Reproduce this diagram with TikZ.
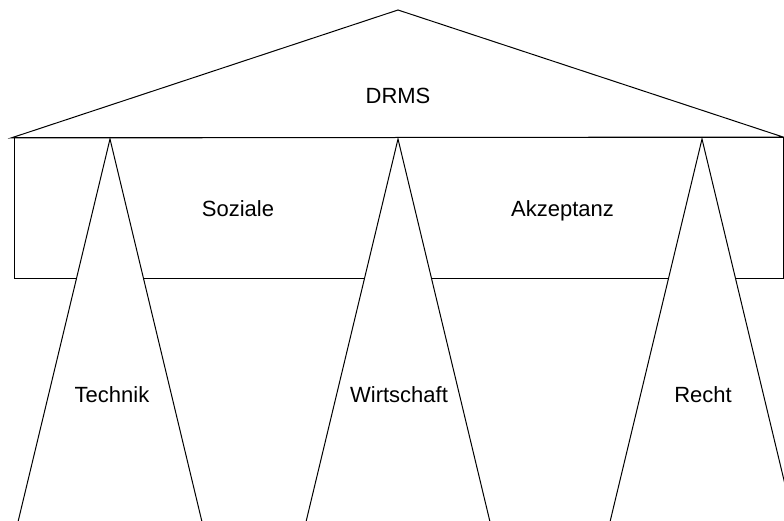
\documentclass[tikz,border=0pt]{standalone}
\usepackage{fontspec}
\setmainfont{Liberation Sans}
\begin{document}
\begin{tikzpicture}[x=1pt,y=-1pt,
  edge/.style={draw=black,line width=1pt,line join=miter},
  pillar/.style={edge,fill=white},
  lbl/.style={anchor=base,inner sep=0pt,font=\fontsize{22}{26}\selectfont}]
\useasboundingbox (0,0) rectangle (784,521);
\clip (0,0) rectangle (784,521);
% roof
\draw[edge] (11,138) -- (398,10) -- (783,137) -- cycle;
% beam
\draw[edge] (14,138) rectangle (783,279);
% pillars (bases lie below the visible area)
\draw[pillar] (110,139) -- (13.4,541) -- (206.6,541) -- cycle;
\draw[pillar] (398,139) -- (301.4,541) -- (494.6,541) -- cycle;
\draw[pillar] (702,139) -- (605.4,541) -- (798.6,541) -- cycle;
% labels
\node[lbl] (drms) at (398,104) {DRMS};
\node[lbl] (soz) at (238,216.7) {Soziale};
\node[lbl] (akz) at (562.5,216.7) {Akzeptanz};
\node[lbl] (tech) at (112,402.7) {Technik};
\node[lbl] (wirt) at (399,402.7) {Wirtschaft};
\node[lbl] (recht) at (703,402.7) {Recht};
\end{tikzpicture}
\end{document}
